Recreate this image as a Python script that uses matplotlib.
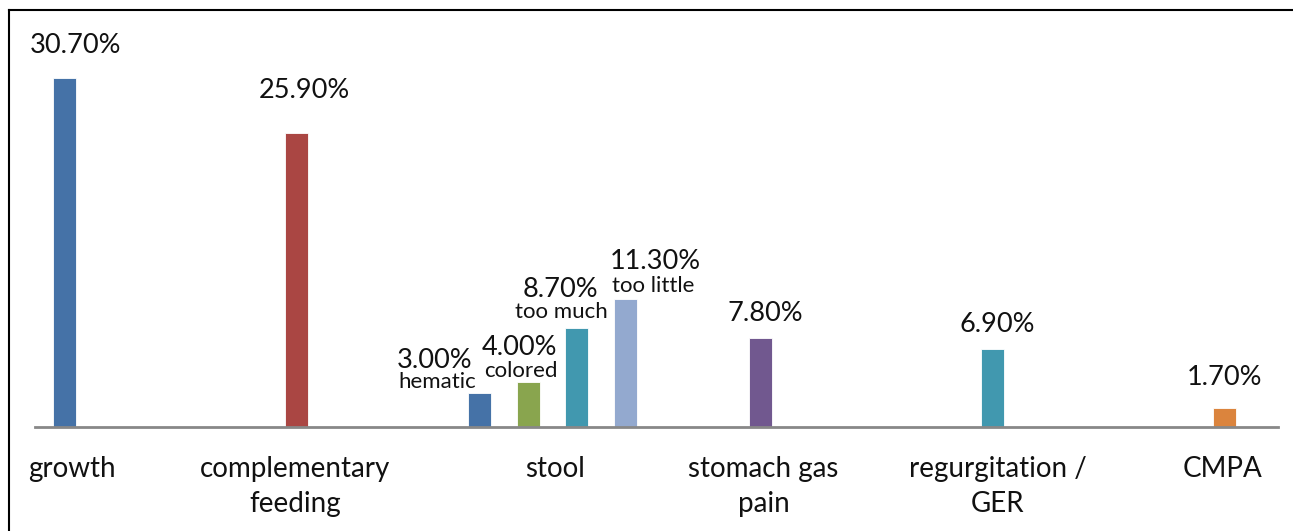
import numpy as np
import matplotlib.pyplot as plt
import matplotlib.transforms as mtransforms
from matplotlib.lines import Line2D

plt.rcParams['font.family'] = ['Lato', 'DejaVu Sans']

categories = ['growth', 'complementary\nfeeding', 'stool', 'stomach gas\npain',
              'regurgitation /\nGER', 'CMPA']
main_values = [30.7, 25.9, None, 7.8, 6.9, 1.7]
main_colors = ['#4572A7', '#AA4643', None, '#71588F', '#4198AF', '#DB843D']

stool_kinds = ['hematic', 'colored', 'too much', 'too little']
stool_values = [3.0, 4.0, 8.7, 11.3]
stool_colors = ['#4572A7', '#89A54E', '#4198AF', '#93A9CF']

# label offsets in pixels (dx, dy above bar top)
main_offsets = [(11, 25), (8, 35), None, (5, 17), (5, 17), (0, 23)]
stool_val_offsets = [(-45, 25), (-9, 27), (-16, 31), (30, 30)]
stool_kind_offsets = [(-43, 5), (-8, 5), (-16, 10), (28, 7)]
tick_shift = [7, -1, 2, 3, 5, -2]

fig = plt.figure(figsize=(12.93, 5.31), dpi=100)
ax = fig.add_axes([35 / 1293, 104 / 531, 1243 / 1293, 417 / 531])

bw = 0.099
step = 0.209
stool_x = 2 + step * np.arange(-1, 3)

for i, (v, c) in enumerate(zip(main_values, main_colors)):
    if v is None:
        continue
    ax.bar(i, v, width=bw, color=c, edgecolor='white', linewidth=0.6)
    dx, dy = main_offsets[i]
    ax.annotate(f'{v:.2f}%', (i, v), xytext=(dx, dy), textcoords='offset pixels',
                ha='center', va='baseline', fontsize=19.5, color='#111111')

for x, v, c, k, vo, ko in zip(stool_x, stool_values, stool_colors, stool_kinds,
                              stool_val_offsets, stool_kind_offsets):
    ax.bar(x, v, width=bw, color=c, edgecolor='white', linewidth=0.6)
    ax.annotate(f'{v:.2f}%', (x, v), xytext=vo, textcoords='offset pixels',
                ha='center', va='baseline', fontsize=19.5, color='#111111')
    ax.annotate(k, (x, v), xytext=ko, textcoords='offset pixels',
                ha='center', va='baseline', fontsize=16, color='#111111')

ticks = [0, 1, stool_x.mean(), 3, 4, 5]
ax.set_xticks(ticks)
ax.set_xticklabels(categories, fontsize=20, linespacing=1.4, color='#111111')
ax.tick_params(axis='x', length=0, pad=21)
for lbl, dx in zip(ax.get_xticklabels(), tick_shift):
    lbl.set_transform(lbl.get_transform() +
                      mtransforms.ScaledTranslation(dx / 100, 0, fig.dpi_scale_trans))
ax.set_yticks([])
ax.set_xlim(-0.127, 5.231)
ax.set_ylim(0, 417 / 11.37)

for s in ['top', 'left', 'right']:
    ax.spines[s].set_visible(False)
ax.spines['bottom'].set_color('#888888')
ax.spines['bottom'].set_linewidth(2)

# outer frame (left and top edges)
fig.add_artist(Line2D([9 / 1293, 9 / 1293], [0, 1 - 10 / 531], color='black', lw=1.5))
fig.add_artist(Line2D([9 / 1293, 1], [1 - 10 / 531, 1 - 10 / 531], color='black', lw=1.5))

fig.savefig('out.png', dpi=100)
